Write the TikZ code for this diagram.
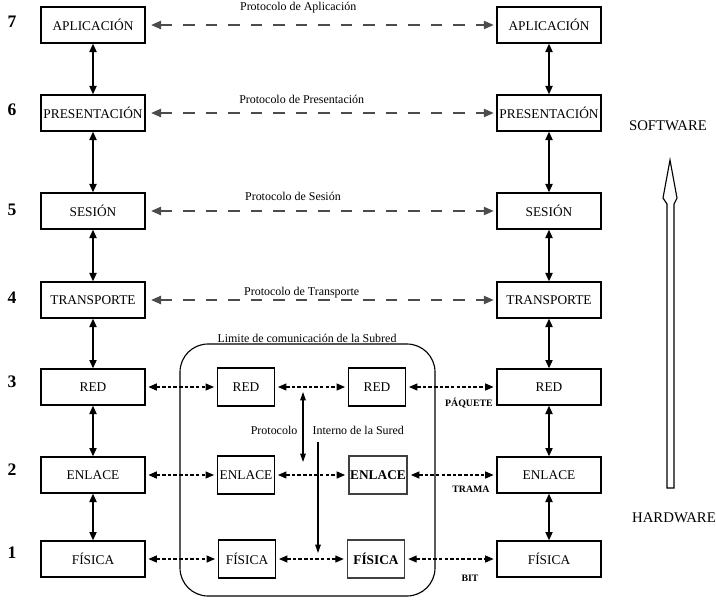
\documentclass[tikz,border=0pt]{standalone}
\usepackage{fontspec}
\setmainfont{Liberation Serif}
\usetikzlibrary{arrows.meta, positioning, calc}

\begin{document}
\begin{tikzpicture}[x=0.025cm, y=-0.025cm,
    capa/.style={draw, thick, minimum width=2.6cm, minimum height=0.9cm, inner sep=1pt, font=\fontsize{9.5}{11}\selectfont},
    capasub/.style={draw, thick, minimum width=1.43cm, minimum height=0.95cm, inner sep=1pt, font=\fontsize{9.5}{11}\selectfont},
    num/.style={font=\fontsize{12.5}{14}\selectfont\bfseries},
    lbl/.style={text=black, font=\fontsize{8.5}{10}\selectfont, inner sep=1pt},
    tipo/.style={font=\fontsize{7}{8}\selectfont\bfseries},
    protocolo/.style={gray!60!black, thick, dash pattern=on 8pt off 8pt, {Triangle[length=7pt,width=6pt]}-{Triangle[length=7pt,width=6pt]}, shorten <=4pt, shorten >=2pt},
    trama/.style={thick, dash pattern=on 2.5pt off 1.5pt, {Triangle[length=6pt,width=5pt]}-{Triangle[length=6pt,width=5pt]}, shorten <=2pt, shorten >=2pt},
    vert/.style={line width=1.2pt, {Triangle[length=6pt,width=5pt]}-{Triangle[length=6pt,width=5pt]}}
]
    \useasboundingbox (0,0) rectangle (716,605);

    % Capas del sistema A
    \node[capa] (apA) at (93,25)  {APLICACIÓN};
    \node[capa] (prA) at (93,113) {PRESENTACIÓN};
    \node[capa] (seA) at (93,211) {SESIÓN};
    \node[capa] (trA) at (93,300) {TRANSPORTE};
    \node[capa] (reA) at (93,387) {RED};
    \node[capa] (enA) at (93,475) {ENLACE};
    \node[capa] (fiA) at (93,559) {FÍSICA};

    % Capas del sistema B
    \node[capa] (apB) at (549,25)  {APLICACIÓN};
    \node[capa] (prB) at (549,113) {PRESENTACIÓN};
    \node[capa] (seB) at (549,211) {SESIÓN};
    \node[capa] (trB) at (549,300) {TRANSPORTE};
    \node[capa] (reB) at (549,387) {RED};
    \node[capa] (enB) at (549,475) {ENLACE};
    \node[capa] (fiB) at (549,559) {FÍSICA};

    % Numeros de capa
    \node[num] (n7) at (12,22)  {7};
    \node[num] (n6) at (12,110) {6};
    \node[num] (n5) at (12,210) {5};
    \node[num] (n4) at (12,298) {4};
    \node[num] (n3) at (12,382) {3};
    \node[num] (n2) at (12,470) {2};
    \node[num] (n1) at (12,553) {1};

    % La subred
    \draw[thick, rounded corners=0.7cm] (180,344) rectangle (435,596);
    \node[lbl, anchor=south, inner sep=0.5pt] (lim) at (307,344) {Limite de comunicación de la Subred};
    \node[capasub] (reS1) at (246,387) {RED};
    \node[capasub] (enS1) at (246,475) {ENLACE};
    \node[capasub] (fiS1) at (247,559) {FÍSICA};
    \node[capasub] (reS2) at (377,387) {RED};
    \node[capasub, very thick, draw=black!75] (enS2) at (378,475) {\bfseries ENLACE};
    \node[capasub, very thick, draw=black!75] (fiS2) at (376,559) {\bfseries FÍSICA};

    % Flechas verticales
    \foreach \a/\b in {apA/prA, prA/seA, seA/trA, trA/reA, reA/enA, enA/fiA,
                       apB/prB, prB/seB, seB/trB, trB/reB, reB/enB, enB/fiB}
        \draw[vert] (\a) -- (\b);

    % Protocolos de igual a igual
    \draw[protocolo] (apA) -- node[lbl, above=7pt, pos=0.435] (pap) {Protocolo de Aplicación} (apB);
    \draw[protocolo] (prA) -- node[lbl, above=5pt, pos=0.445] (ppr) {Protocolo de Presentación} (prB);
    \draw[protocolo] (seA) -- node[lbl, above=6pt, pos=0.42] (pse) {Protocolo de Sesión} (seB);
    \draw[protocolo] (trA) -- node[lbl, above=0pt, pos=0.445] (ptr) {Protocolo de Transporte} (trB);

    % Capas bajas
    \foreach \c in {re, en, fi} {
        \draw[trama] (\c A) -- (\c S1);
        \draw[trama] (\c S1) -- (\c S2);
        \draw[trama] (\c S2) -- (\c B);
    }
    \node[tipo] (paq) at (469,403) {PÁQUETE};
    \node[tipo] (tra) at (471,489) {TRAMA};
    \node[tipo] (bit) at (470,578) {BIT};

    % Protocolo interno
    \coordinate (ipa) at (303,392);
    \coordinate (ipb) at (303,462);
    \coordinate (ipc) at (318,442);
    \coordinate (ipd) at (318,553);
    \draw[thick, {Triangle[length=6pt,width=4pt]}-{Triangle[length=6pt,width=4pt]}] (ipa) -- (ipb);
    \draw[thick, -{Triangle[length=6pt,width=4pt]}] (ipc) -- (ipd);
    \node[lbl, anchor=east] (pin1) at (299,430) {Protocolo};
    \node[lbl, anchor=west] (pin2) at (311,430) {Interno de la Sured};

    % Flecha software / hardware
    \draw[thick] (667,488) -- (667,204) -- (663,198) -- (670,160) -- (677,198) -- (674,204) -- (674,488) -- cycle;
    \node[font=\fontsize{10.5}{12}\selectfont] (sw) at (668,126) {SOFTWARE};
    \node[font=\fontsize{10.5}{12}\selectfont] (hw) at (674,518) {HARDWARE};

\end{tikzpicture}
\end{document}
